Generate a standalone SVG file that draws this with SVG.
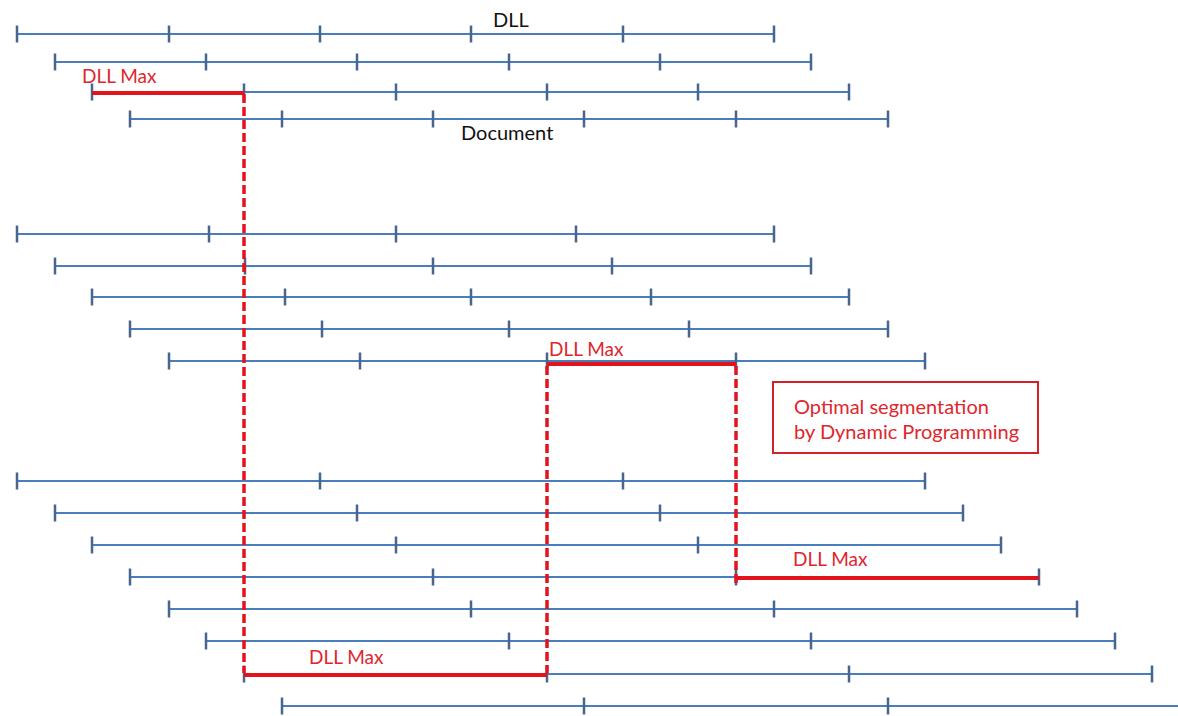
<svg xmlns="http://www.w3.org/2000/svg" width="1178" height="716" viewBox="0 0 1178 716">
<style>
.ln{stroke:#4a7dbb;stroke-width:2;fill:none}
.tk{stroke:#46668f;stroke-width:2.5;fill:none}
.red{stroke:#e3131b;stroke-width:4;fill:none}
.dash{stroke:#e3131b;stroke-width:3.5;fill:none;stroke-dasharray:9 4}
.lbl{font-family:Lato,"Liberation Sans",Arial,sans-serif;font-size:20px;fill:#111}
.rlbl{font-family:Lato,"Liberation Sans",Arial,sans-serif;font-size:20px;fill:#e0262d}
.dm{font-size:19px}
.box{fill:#fff;stroke:#d4202a;stroke-width:2}
</style>
<rect width="1178" height="716" fill="#fff"/>
<g id="section1">
<g id="s1r1"><path class="ln" d="M17 34H774"/><path class="tk" d="M17 25.5v17M169 25.5v17M320 25.5v17M471 25.5v17M623 25.5v17M774 25.5v17"/></g>
<g id="s1r2"><path class="ln" d="M55 62H811"/><path class="tk" d="M55 53.5v17M206 53.5v17M357 53.5v17M509 53.5v17M660 53.5v17M811 53.5v17"/></g>
<g id="s1r3"><path class="ln" d="M92 92H849"/><path class="tk" d="M92 83.5v17M244 83.5v17M396 83.5v17M547 83.5v17M698 83.5v17M849 83.5v17"/></g>
<g id="s1r4"><path class="ln" d="M130 119H888"/><path class="tk" d="M130 110.5v17M282 110.5v17M433 110.5v17M584 110.5v17M736 110.5v17M888 110.5v17"/></g>
</g>
<g id="section2">
<g id="s2r1"><path class="ln" d="M17 234H774"/><path class="tk" d="M17 225.5v17M209 225.5v17M396 225.5v17M576 225.5v17M774 225.5v17"/></g>
<g id="s2r2"><path class="ln" d="M55 266H811"/><path class="tk" d="M55 257.5v17M245 257.5v17M433 257.5v17M612 257.5v17M811 257.5v17"/></g>
<g id="s2r3"><path class="ln" d="M92 297H849"/><path class="tk" d="M92 288.5v17M285 288.5v17M471 288.5v17M651 288.5v17M849 288.5v17"/></g>
<g id="s2r4"><path class="ln" d="M130 329H888"/><path class="tk" d="M130 320.5v17M322 320.5v17M509 320.5v17M689 320.5v17M888 320.5v17"/></g>
<g id="s2r5"><path class="ln" d="M169 361H925"/><path class="tk" d="M169 352.5v17M360 352.5v17M547 352.5v17M736 352.5v17M925 352.5v17"/></g>
</g>
<g id="section3">
<g id="s3r1"><path class="ln" d="M17 481H925"/><path class="tk" d="M17 472.5v17M320 472.5v17M623 472.5v17M925 472.5v17"/></g>
<g id="s3r2"><path class="ln" d="M55 513H963"/><path class="tk" d="M55 504.5v17M357 504.5v17M660 504.5v17M963 504.5v17"/></g>
<g id="s3r3"><path class="ln" d="M92 545H1001"/><path class="tk" d="M92 536.5v17M396 536.5v17M698 536.5v17M1001 536.5v17"/></g>
<g id="s3r4"><path class="ln" d="M130 577H1039"/><path class="tk" d="M130 568.5v17M433 568.5v17M736 568.5v17M1039 568.5v17"/></g>
<g id="s3r5"><path class="ln" d="M169 609H1077"/><path class="tk" d="M169 600.5v17M471 600.5v17M774 600.5v17M1077 600.5v17"/></g>
<g id="s3r6"><path class="ln" d="M206 641H1115"/><path class="tk" d="M206 632.5v17M509 632.5v17M811 632.5v17M1115 632.5v17"/></g>
<g id="s3r7"><path class="ln" d="M244 674H1152"/><path class="tk" d="M244 665.5v17M547 665.5v17M849 665.5v17M1152 665.5v17"/></g>
<g id="s3r8"><path class="ln" d="M282 706H1178"/><path class="tk" d="M282 697.5v17M584 697.5v17M888 697.5v17"/></g>
</g>
<g id="connectors">
<path class="dash" d="M244 94V673"/>
<path class="dash" d="M547 366V673"/>
<path class="dash" d="M736 366V586"/>
<path class="red" d="M92 93H244"/>
<path class="red" d="M547 364H736"/>
<path class="red" d="M736 578H1039"/>
<path class="red" d="M244 675H547"/>
</g>
<g id="labels">
<text class="lbl" x="493" y="27">DLL</text>
<text class="lbl" x="461" y="140">Document</text>
<text class="rlbl dm" x="82" y="83">DLL Max</text>
<text class="rlbl dm" x="549" y="356">DLL Max</text>
<text class="rlbl dm" x="793" y="566">DLL Max</text>
<text class="rlbl dm" x="309" y="664">DLL Max</text>
</g>
<g id="note">
<rect class="box" x="773" y="382" width="265" height="71"/>
<text class="rlbl" x="794" y="414">Optimal segmentation</text>
<text class="rlbl" x="794" y="439">by Dynamic Programming</text>
</g>
</svg>
